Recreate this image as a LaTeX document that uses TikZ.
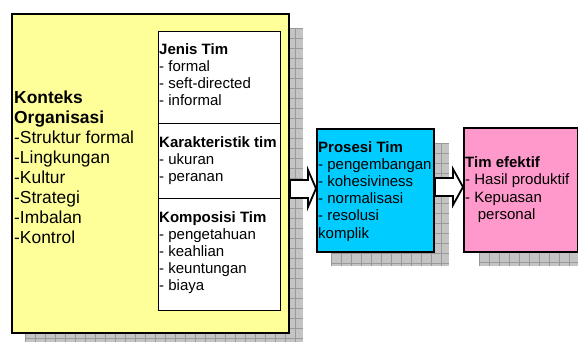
\documentclass[tikz,border=0pt]{standalone}
\usepackage{fontspec}
\setmainfont{Liberation Sans}
\usetikzlibrary{calc}

\definecolor{ctxyellow}{HTML}{FFFF99}
\definecolor{procblue}{HTML}{00CCFF}
\definecolor{outpink}{HTML}{FF99CC}
\definecolor{shadefill}{HTML}{C4C4C4}
\definecolor{shadeline}{HTML}{999999}

\tikzset{
  panel/.style={draw=black, line width=2pt, anchor=north west, inner sep=0pt,
    minimum width=#1},
  subpanel/.style={draw=black, line width=1.4pt, fill=white, anchor=north west,
    inner sep=0pt, minimum width=122pt},
  txt/.style={anchor=base west, inner sep=0pt, font=\fontsize{15}{17}\selectfont},
  bigtxt/.style={anchor=base west, inner sep=0pt, font=\fontsize{17.4}{20}\selectfont},
  blockarrow/.style={draw=black, line width=1.8pt, fill=white, line join=miter},
}

% grey drop shadow with a fine grid, top-left corner #1, size #2 x #3
\newcommand\gridshadow[3]{%
  \begin{scope}[shift={#1}]
    \clip (0,0) rectangle (#2,#3);
    \fill[shadefill] (0,0) rectangle (#2,#3);
    \draw[shadeline, line width=0.6pt, step=10pt] (0,0) grid (#2,#3);
  \end{scope}}

\begin{document}
\begin{tikzpicture}[x=1pt,y=-1pt]
  \useasboundingbox (0,0) rectangle (578,341);

  % shadows
  \gridshadow{(25,28)}{278}{320}
  \gridshadow{(331,143)}{118}{123}
  \gridshadow{(479,142)}{99}{124}

  % organisational context
  \node[panel=277pt, minimum height=319pt, fill=ctxyellow] (org) at (11,13) {};
  \node[subpanel, minimum height=92pt] (jenis) at (158,31) {};
  \node[subpanel, minimum height=75pt] (karak) at (158,123) {};
  \node[subpanel, minimum height=112pt] (kompo) at (158,198) {};

  % team process and outcome
  \node[panel=117pt, minimum height=123pt, fill=procblue] (proc) at (316,128) {};
  \node[panel=114pt, minimum height=124pt, fill=outpink] (eff) at (463,127) {};

  % block arrows
  \draw[blockarrow] (org.east |- 0,180) -- (308,180) -- (308,170)
    -- (proc.west |- 0,188.5) -- (308,207) -- (308,198) -- (org.east |- 0,198) -- cycle;
  \draw[blockarrow] (proc.east |- 0,178) -- (453,178) -- (453,169)
    -- (eff.west |- 0,187) -- (453,205) -- (453,196) -- (proc.east |- 0,196) -- cycle;

  % texts
  \foreach \t [count=\i from 0] in {\textbf{Konteks}, \textbf{Organisasi},
      -Struktur formal, -Lingkungan, -Kultur, -Strategi, -Imbalan, -Kontrol}
    \node[bigtxt] (org\i) at (14,{103+20.1*\i}) {\t};

  \foreach \t [count=\i from 0] in {\textbf{Jenis Tim}, - formal, - seft-directed, - informal}
    \node[txt] (jenis\i) at (159,{54.5+17*\i}) {\t};
  \foreach \t [count=\i from 0] in {\textbf{Karakteristik tim}, - ukuran, - peranan}
    \node[txt] (karak\i) at (159,{147.7+17*\i}) {\t};
  \foreach \t [count=\i from 0] in {\textbf{Komposisi Tim}, - pengetahuan, - keahlian,
      - keuntungan, - biaya}
    \node[txt] (kompo\i) at (159,{222.3+17*\i}) {\t};

  \foreach \t [count=\i from 0] in {\textbf{Prosesi Tim}, - pengembangan, - kohesiviness,
      - normalisasi, - resolusi, komplik}
    \node[txt] (proc\i) at (318,{152+17.2*\i}) {\t};

  \foreach \t [count=\i from 0] in {\textbf{Tim efektif}, - Hasil produktif, - Kepuasan}
    \node[txt] (eff\i) at (465,{167+17.5*\i}) {\t};
  \node[txt] (eff3) at (477.7,219.5) {personal};
\end{tikzpicture}
\end{document}
